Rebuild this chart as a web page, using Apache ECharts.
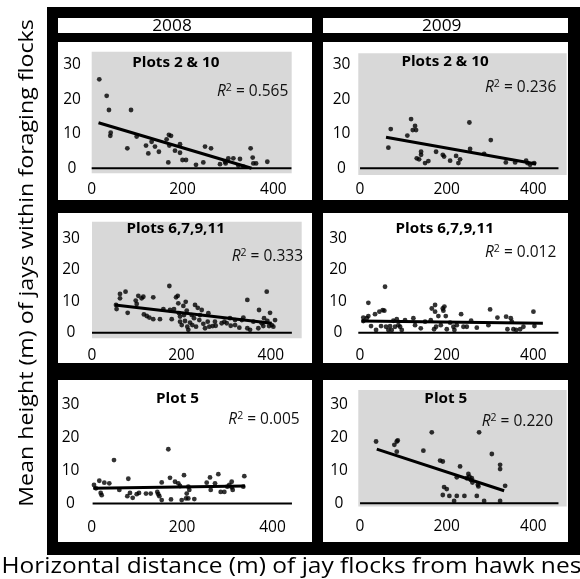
<!DOCTYPE html>
<html><head><meta charset="utf-8">
<script src="https://cdn.jsdelivr.net/npm/echarts@6/dist/echarts.min.js"></script>
<style>html,body{margin:0;padding:0;background:#fff}#c{width:580px;height:579px}</style>
</head><body><div id="c"></div>
<script>
// ---------- data ----------
const years = ['2008', '2009'];
const plotTitles = ['Plots 2 & 10', 'Plots 2 & 10', 'Plots 6,7,9,11', 'Plots 6,7,9,11', 'Plot 5', 'Plot 5'];
const r2Values = ['0.565', '0.236', '0.333', '0.012', '0.005', '0.220'];
const yTickValues = [0, 10, 20, 30];
const xTickValues = [0, 200, 400];
const yAxisTitle = 'Mean height (m) of jays within foraging flocks';
const xAxisTitle = 'Horizontal distance (m) of jay flocks from hawk nests';

const pts2008Plots210 = [[16.7,25.8],[33,21.0],[38,16.9],[86.6,16.9],[41.8,10.3],[41,9.4],[78.5,5.8],[99,9.2],[119.6,6.6],[124.7,4.3],[132,7.7],[139.4,6.3],[148,4.8],[165,8.4],[170,9.7],[174.7,9.4],[171,6.6],[168.7,1.7],[183.5,5.1],[194.5,7.0],[194.5,4.5],[200,2.4],[207.7,2.4],[229.7,1.0],[245.8,1.7],[249.6,6.3],[262.8,5.8],[282.6,1.2],[293.6,1.9],[300.9,2.9],[312,2.9],[326.6,2.7],[334,0.5],[350,5.8],[354.6,3.1],[356,1.4],[362,1.4],[386.8,1.9],[323,0.8],[295,1.4]];
const pts2009Plots210 = [[65.4,6.0],[70.9,11.4],[109.2,9.5],[117.8,14.3],[121.7,11.1],[127,12.3],[129.3,11.1],[130.9,2.9],[136.3,2.6],[140.9,4.8],[140.9,3.9],[150.1,1.5],[157.7,2.1],[175.5,4.8],[191,3.9],[194,3.4],[207.9,2.2],[221.7,3.6],[227,1.5],[230.9,2.6],[252.4,13.3],[254,5.6],[286.4,4.2],[301.8,8.2],[336.5,1.7],[358,1.7],[383.4,2.2],[386.4,1.5],[392.6,1.0],[401.8,1.5]];
const pts2008Plots67911 = [[53.7,8.8],[55,7.5],[62.6,12.3],[62.6,10.9],[75,13.0],[79.8,6.3],[97.8,10.2],[100,9.1],[103.6,11.7],[111,10.9],[114.8,11.4],[116,5.8],[122.4,5.3],[128.2,4.8],[137,11.2],[137,4.3],[152,4.3],[159.6,7.5],[173,14.8],[174.5,7.2],[178.3,4.3],[183.4,7.5],[188,11.2],[191.7,11.7],[193,9.3],[194.6,6.2],[196.9,5.1],[196.9,3.5],[200.7,2.4],[204.3,8.5],[205.8,5.6],[208,3.7],[209.6,9.8],[211.9,7.0],[213.2,1.9],[215.4,0.9],[219.2,3.2],[223,5.6],[224.4,2.4],[228.2,4.6],[230.4,8.8],[232.7,1.9],[236.5,7.9],[240,4.0],[241.6,5.6],[245.4,7.2],[249,2.8],[252.8,1.4],[258.8,3.5],[260.2,6.2],[262.4,1.9],[270,2.1],[276.7,2.2],[290,3.0],[296,3.5],[301.3,3.0],[310.3,2.2],[320,2.4],[320,4.0],[329.5,1.6],[335,4.0],[338.5,4.8],[347.4,10.4],[347.4,1.4],[353.5,0.9],[360.9,3.5],[373.6,7.2],[379.6,3.0],[383.2,2.1],[384.8,4.6],[390.8,13.0],[392.2,3.7],[396,2.1],[398.2,6.3],[402,2.4],[405.6,1.9],[409.4,4.0],[372,1.4],[308.7,4.6],[275,3.5]];
const pts2009Plots67911 = [[19.2,9.5],[7.6,3.7],[15.5,4.6],[19.2,5.3],[25.4,2.1],[34.6,5.9],[37,0.9],[44.6,6.7],[48.5,2.1],[52.4,7.2],[56.1,7.0],[57.7,14.6],[60,1.9],[65.4,0.9],[69.3,2.1],[73.2,0.9],[76.9,3.8],[80.8,1.9],[84.8,4.3],[88.5,2.4],[92.4,1.9],[96.3,0.9],[103.9,4.0],[123.1,4.6],[127,2.4],[140.2,1.4],[150.1,3.5],[163.3,4.0],[165.6,7.7],[170.9,1.1],[173.2,6.7],[173.2,8.8],[175.5,1.9],[180.8,5.3],[186.4,2.4],[191,7.7],[192.4,7.0],[194.7,8.3],[197.9,5.3],[200.2,1.1],[207.9,3.2],[215.5,1.9],[217.8,0.9],[223.3,2.4],[233.3,5.9],[238.6,1.9],[246.4,1.9],[256.4,3.8],[269.5,1.6],[296.3,2.4],[300.2,7.4],[317.1,4.8],[337.2,5.1],[340.2,1.1],[348,4.6],[350.3,3.5],[354,1.1],[360.3,0.9],[369.5,1.1],[377.1,1.9],[400.2,6.7],[402.5,2.1],[7.6,4.8]];
const pts2008Plot5 = [[5.1,5.6],[9.5,4.6],[16.8,6.9],[22.1,2.5],[19.9,3.2],[27.9,6.3],[38.9,6.1],[49.3,13.2],[61.1,4.1],[81,7.5],[78.8,2.2],[84.7,3.2],[90.7,1.7],[99.6,2.8],[104.6,3.2],[120.1,3.0],[130.5,3.0],[145.1,3.5],[147.3,2.8],[149.6,2.2],[154.9,6.4],[154.9,1.0],[169.5,16.5],[173.2,7.8],[175.4,1.2],[184.3,6.6],[191.6,6.1],[195.4,5.3],[199.1,1.0],[204.2,8.6],[208.6,1.5],[210.2,3.0],[213.7,1.5],[213.7,5.1],[215.9,4.1],[227,1.3],[261.7,7.9],[263.3,4.1],[272.8,6.1],[280.1,8.9],[285.4,3.5],[293.4,3.5],[300,5.1],[304.4,5.6],[309.7,6.6],[311.9,4.1],[309.7,4.9],[337.6,8.3],[335.4,5.1],[254.4,6.3]];
const pts2009Plot5 = [[37,18.8],[79.2,17.8],[84.8,18.8],[87.1,19.1],[84.8,15.7],[165.6,21.6],[146.2,16.0],[184.8,13.0],[191,12.7],[194,4.9],[200.2,4.3],[191,2.5],[206.2,2.2],[217.1,0.7],[223.3,2.2],[223.3,7.9],[230.9,11.2],[240.9,2.2],[246.4,7.6],[250.1,8.9],[252.4,8.1],[255.7,7.1],[258,7.6],[259.4,6.3],[269.5,2.2],[273.2,5.1],[274.8,21.6],[271.8,5.6],[286.4,0.7],[304.2,15.0],[323.3,11.7],[323.3,10.4],[323.3,0.7],[334.9,5.3]];

const fit2008Plots210 = [[15,13.2],[352,0]];
const fit2009Plots210 = [[60,9.0],[406.5,1.25]];
const fit2008Plots67911 = [[51.5,8.8],[402,3.0]];
const fit2009Plots67911 = [[3.9,3.7],[422,3.0]];
const fit2008Plot5 = [[3.5,4.6],[339.2,5.3]];
const fit2009Plot5 = [[38.6,16.5],[332.6,3.8]];

const zeroLineSpans = [[0,440],[0,458],[0,447],[-4,458],[2,443],[0,458]];

const pointSets = [pts2008Plots210, pts2009Plots210, pts2008Plots67911, pts2009Plots67911, pts2008Plot5, pts2009Plot5];
const fitSets = [fit2008Plots210, fit2009Plots210, fit2008Plots67911, fit2009Plots67911, fit2008Plot5, fit2009Plot5];

// ---------- layout ----------
const FONT = '"Open Sans", sans-serif';
const GRAY = '#d8d8d8';
const layout = [
  {grid:{left:91.7, top:51.7, width:200, height:121.6}, x:[0,440.5], y:[-1.45,33.8], bg:true,  xm:8.5, ym:19.7, title:[175.8,63.3], r2:[217,92]},
  {grid:{left:358.3,top:53.3, width:208.4,height:121.7}, x:[-4,477], y:[-1.95,33.4], bg:true,  xm:7,   ym:16.8, title:[445,62.3],   r2:[485,87.7]},
  {grid:{left:92,   top:221.7,width:209.7,height:116.6}, x:[0,469],  y:[-1.78,35.2], bg:true,  xm:9,   ym:21,   title:[175.7,229],   r2:[231.7,256.7]},
  {grid:{left:358.3,top:222.4,width:208.4,height:116},   x:[-4,477], y:[-1.8,35.03], bg:false, xm:9,   ym:20.3, title:[444.7,229.3], r2:[485,252.7]},
  {grid:{left:91.7, top:388.5,width:199.8,height:120.8}, x:[0,442],  y:[-1.8,35],    bg:false, xm:10,  ym:21.2, title:[177.5,399.3], r2:[228.3,420]},
  {grid:{left:358.3,top:390,  width:208.4,height:116.6}, x:[-4,477], y:[-1.04,34.5], bg:true,  xm:12,  ym:19.3, title:[445.8,399.3], r2:[481.7,421.7]}
];

const grids = [], xAxes = [], yAxes = [], series = [];
layout.forEach((L, i) => {
  grids.push(Object.assign({show:true, borderWidth:0, backgroundColor: L.bg ? GRAY : 'transparent', containLabel:false}, L.grid));
  xAxes.push({type:'value', gridIndex:i, min:L.x[0], max:L.x[1],
    axisLine:{show:false}, axisTick:{show:false}, splitLine:{show:false},
    axisLabel:{customValues:xTickValues, margin:L.xm, color:'#000', fontSize:15.5, fontFamily:FONT}});
  yAxes.push({type:'value', gridIndex:i, min:L.y[0], max:L.y[1],
    axisLine:{show:false}, axisTick:{show:false}, splitLine:{show:false},
    axisLabel:{customValues:yTickValues, margin:L.ym, align:'center', color:'#000', fontSize:15.5, fontFamily:FONT}});
  series.push({type:'line', xAxisIndex:i, yAxisIndex:i, data: zeroLineSpans[i].map(v => [v, 0]),
    symbol:'none', silent:true, z:2, clip:false, lineStyle:{color:'#000', width:2}});
  series.push({type:'line', xAxisIndex:i, yAxisIndex:i, data: fitSets[i],
    symbol:'none', silent:true, z:3, clip:false, lineStyle:{color:'#000', width:3}});
  series.push({type:'scatter', xAxisIndex:i, yAxisIndex:i, data: pointSets[i],
    symbolSize:4.8, silent:true, z:4, clip:false, itemStyle:{color:'#000'}});
});

// frame
const graphic = [];
graphic.push({type:'rect', z:-20, shape:{x:47, y:7, width:533, height:548}, style:{fill:'#000'}});
const colX = [[58,254],[323,245]];
const rowY = [[42,158],[213,150],[380,162]];
colX.forEach(c => graphic.push({type:'rect', z:-19, shape:{x:c[0], y:18, width:c[1], height:15}, style:{fill:'#fff'}}));
rowY.forEach(r => colX.forEach(c => graphic.push({type:'rect', z:-19, shape:{x:c[0], y:r[0], width:c[1], height:r[1]}, style:{fill:'#fff'}})));
// year headers
const yearPos = [[172,26],[441.7,26.5]];
years.forEach((yr, i) => graphic.push({type:'text', z:10, x:yearPos[i][0], y:yearPos[i][1], scaleX:1.08,
  style:{text:yr, fill:'#000', font:'16px ' + FONT, textAlign:'center', textVerticalAlign:'middle', align:'center', verticalAlign:'middle'}}));
// panel titles and R2
layout.forEach((L, i) => {
  graphic.push({type:'text', z:10, x:L.title[0], y:L.title[1], scaleX:1.05,
    style:{text:plotTitles[i], fill:'#000', font:'bold 14.5px ' + FONT, textAlign:'center', textVerticalAlign:'middle', align:'center', verticalAlign:'middle'}});
  graphic.push({type:'text', z:10, x:L.r2[0], y:L.r2[1],
    style:{text:'{i|R}{s|2}{n| = ' + r2Values[i] + '}', fill:'#111', font:'15.5px ' + FONT,
      textAlign:'left', textVerticalAlign:'middle', align:'left', verticalAlign:'middle',
      rich:{
        i:{fontStyle:'italic', fontSize:15.5, fontFamily:FONT, lineHeight:18, fill:'#111'},
        s:{fontSize:10.5, fontFamily:FONT, verticalAlign:'top', lineHeight:12, fill:'#111'},
        n:{fontSize:15.5, fontFamily:FONT, lineHeight:18, fill:'#111'}
      }}});
});
// axis titles
graphic.push({type:'text', z:10, x:27, y:263, rotation:Math.PI/2, scaleX:1.16,
  style:{text:yAxisTitle, fill:'#000', font:'20px ' + FONT, textAlign:'center', textVerticalAlign:'middle', align:'center', verticalAlign:'middle'}});
graphic.push({type:'text', z:10, x:1.5, y:567, scaleX:1.167,
  style:{text:xAxisTitle, fill:'#000', font:'21px ' + FONT, textAlign:'left', textVerticalAlign:'middle', align:'left', verticalAlign:'middle'}});

const chart = echarts.init(document.getElementById('c'), null, {renderer:'canvas'});
chart.setOption({animation:false, backgroundColor:'#fff', grid:grids, xAxis:xAxes, yAxis:yAxes, series:series, graphic:graphic});
</script></body></html>
